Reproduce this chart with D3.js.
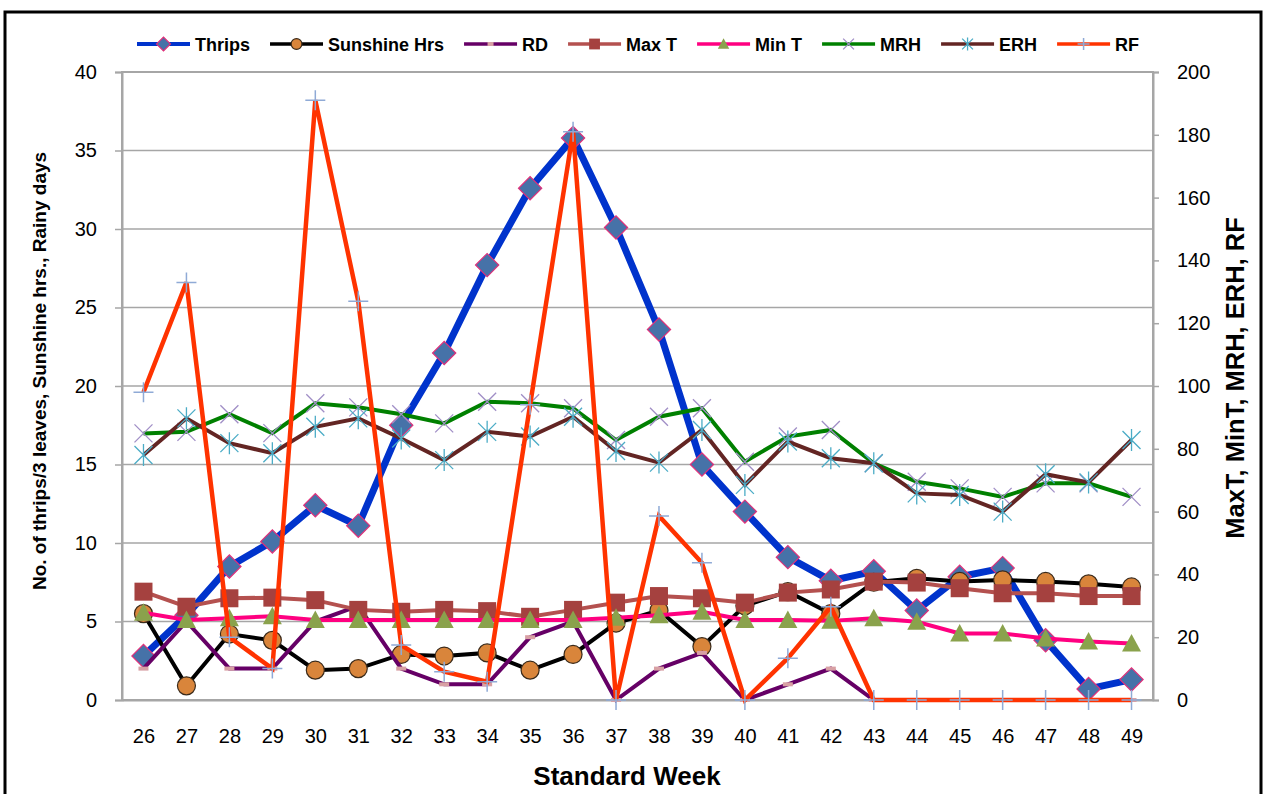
<!DOCTYPE html>
<html><head><meta charset="utf-8">
<script src="https://cdn.jsdelivr.net/npm/d3@7"></script>
<style>
body{margin:0;background:#fff}
svg{display:block}
text{font-family:"Liberation Sans",Arial,sans-serif;font-weight:bold;fill:#000}
</style>
</head><body><svg id="c" width="1264" height="794"></svg>
<script>
// ---- data ----
const weeks = [26,27,28,29,30,31,32,33,34,35,36,37,38,39,40,41,42,43,44,45,46,47,48,49];
const thrips = [2.8,5.4,8.5,10.1,12.4,11.1,17.5,22.1,27.7,32.6,35.8,30.1,23.6,15.0,12.0,9.1,7.6,8.2,5.7,7.85,8.4,3.8,0.7,1.3];
const sunshineHrs = [5.5,0.9,4.2,3.8,1.9,2.0,2.9,2.8,3.0,1.9,2.9,4.9,5.7,3.4,6.0,6.9,5.5,7.5,7.75,7.55,7.65,7.55,7.4,7.2];
const rainyDays = [2,5,2,2,5,6,2,1,1,4,5,0,2,3,0,1,2,0,0,0,0,0,0,0];
const maxT = [34.5,29.7,32.4,32.6,31.8,28.7,28.1,28.7,28.3,26.5,28.7,31,33.1,32.4,31,34.2,35.2,37.7,37.4,35.6,34,34,33.1,33.1];
const minT = [27.8,25.5,26,26.7,25.5,25.5,25.5,25.5,25.5,25.5,25.5,26.2,27,28.1,25.5,25.5,25.2,26,24.9,21.2,21.2,19.6,18.6,18];
const mrh = [84.9,85.4,91,85,94.5,93.2,91,88.1,95,94.5,92.9,82.8,90.2,92.9,75.9,83.9,86,75.4,69.5,67.4,64.7,69,69,64.7];
const erh = [78,89.7,81.8,78.6,87,89.7,83.3,76.4,85.4,83.9,90.2,79.3,75.6,86,68.5,82.3,77,75.4,65.8,65.3,60,71.9,69.3,82.8];
const rf = [98,133,20,10,191,127,17.5,9,5.8,94,181,0,58.6,43.7,0,13.3,29.7,0,0,0,0,0,0,0];
const leftTicks = [0,5,10,15,20,25,30,35,40];
const rightTicks = [0,20,40,60,80,100,120,140,160,180,200];
const seriesNames = ["Thrips","Sunshine Hrs","RD","Max T","Min T","MRH","ERH","RF"];
const xTitle = "Standard Week";
const yLeftTitle = "No. of thrips/3 leaves, Sunshine hrs., Rainy days";
const yRightTitle = "MaxT, MinT, MRH, ERH, RF";

// ---- layout ----
const svg = d3.select("#c");
const L = 122, R = 1153, T = 72, B = 700;
const x = d3.scalePoint().domain(weeks).range([L, R]).padding(0.5);
const yL = d3.scaleLinear().domain([0, 40]).range([B, T]);
const yR = d3.scaleLinear().domain([0, 200]).range([B, T]);

// outer frame
svg.append("rect").attr("x", 5).attr("y", 12).attr("width", 1256).attr("height", 800)
  .attr("fill", "none").attr("stroke", "#000").attr("stroke-width", 3);

// gridlines
svg.append("g").selectAll("line").data(leftTicks.filter(d => d > 0 && d < 40)).join("line")
  .attr("x1", L).attr("x2", R).attr("y1", d => yL(d)).attr("y2", d => yL(d))
  .attr("stroke", "#a6a6a6").attr("stroke-width", 1.5);
// plot border
svg.append("rect").attr("x", L).attr("y", T).attr("width", R - L).attr("height", B - T)
  .attr("fill", "none").attr("stroke", "#a6a6a6").attr("stroke-width", 2);

// axes
const gL = svg.append("g").attr("transform", `translate(${L},0)`)
  .call(d3.axisLeft(yL).tickValues(leftTicks).tickSize(7).tickPadding(18));
const gR = svg.append("g").attr("transform", `translate(${R},0)`)
  .call(d3.axisRight(yR).tickValues(rightTicks).tickSize(6).tickPadding(18));
const gB = svg.append("g").attr("transform", `translate(0,${B})`)
  .call(d3.axisBottom(x).tickSize(0).tickPadding(29));
[gL, gR, gB].forEach(g => {
  g.select(".domain").attr("stroke", "#a6a6a6").attr("stroke-width", 2);
  g.selectAll(".tick line").attr("stroke", "#a6a6a6").attr("stroke-width", 1.5);
  g.selectAll("text").style("font-size", "20px").style("font-weight", "normal")
   .style("font-family", '"Liberation Sans",Arial,sans-serif').attr("fill", "#000");
});

// titles
svg.append("text").attr("x", 627).attr("y", 785).attr("text-anchor", "middle")
  .style("font-size", "26px").text(xTitle);
svg.append("text").attr("transform", `translate(46,371) rotate(-90)`)
  .attr("text-anchor", "middle").style("font-size", "19px").text(yLeftTitle);
svg.append("text").attr("transform", `translate(1244,378) rotate(-90)`)
  .attr("text-anchor", "middle").style("font-size", "25.5px").text(yRightTitle);

// ---- marker drawing ----
function marker(g, type, s) {
  switch (type) {
    case "diamond":
      g.append("path").attr("d", d3.symbol(d3.symbolSquare, 270 * s * s)())
        .attr("transform", "rotate(45)").attr("fill", "#4672a8").attr("stroke", "#e0307a").attr("stroke-width", 1.2);
      break;
    case "circle":
      g.append("circle").attr("r", 9 * s).attr("fill", "#d9853b").attr("stroke", "#3a2a1a").attr("stroke-width", 1.2);
      break;
    case "dash":
      g.append("rect").attr("x", -5 * s).attr("y", -2).attr("width", 10 * s).attr("height", 4)
        .attr("fill", "#d8a0a4");
      break;
    case "square":
      g.append("rect").attr("x", -9 * s).attr("y", -9 * s).attr("width", 18 * s).attr("height", 18 * s)
        .attr("fill", "#a5413f");
      break;
    case "triangle":
      g.append("path").attr("d", `M0,${-9.5 * s}L${9.5 * s},${8 * s}L${-9.5 * s},${8 * s}Z`).attr("fill", "#8aa24c");
      break;
    case "x":
      g.append("path").attr("d", `M${-9 * s},${-9 * s}L${9 * s},${9 * s}M${-9 * s},${9 * s}L${9 * s},${-9 * s}`)
        .attr("stroke", "#a08ec6").attr("stroke-width", 1.3).attr("fill", "none");
      break;
    case "asterisk":
      g.append("path").attr("d", `M${-9 * s},${-9 * s}L${9 * s},${9 * s}M${-9 * s},${9 * s}L${9 * s},${-9 * s}M0,${-11 * s}L0,${11 * s}`)
        .attr("stroke", "#4bacc6").attr("stroke-width", 1.3).attr("fill", "none");
      break;
    case "plus":
      g.append("path").attr("d", `M${-10 * s},0L${10 * s},0M0,${-10 * s}L0,${10 * s}`)
        .attr("stroke", "#8faad6").attr("stroke-width", 1.5).attr("fill", "none");
      break;
  }
}

const series = [
  {name: seriesNames[0], values: thrips, y: yL, color: "#0033cc", width: 7, m: "diamond"},
  {name: seriesNames[1], values: sunshineHrs, y: yL, color: "#000000", width: 4, m: "circle"},
  {name: seriesNames[2], values: rainyDays, y: yL, color: "#660066", width: 4, m: "dash"},
  {name: seriesNames[3], values: maxT, y: yR, color: "#b4514f", width: 4, m: "square"},
  {name: seriesNames[4], values: minT, y: yR, color: "#ff0080", width: 4, m: "triangle"},
  {name: seriesNames[5], values: mrh, y: yR, color: "#008000", width: 4, m: "x"},
  {name: seriesNames[6], values: erh, y: yR, color: "#632523", width: 4, m: "asterisk"},
  {name: seriesNames[7], values: rf, y: yR, color: "#ff3300", width: 4.5, m: "plus"}
];

const plot = svg.append("g");
series.forEach(s => {
  const line = d3.line().x((d, i) => x(weeks[i])).y(d => s.y(d));
  plot.append("path").datum(s.values).attr("d", line).attr("fill", "none")
    .attr("stroke", s.color).attr("stroke-width", s.width).attr("stroke-linejoin", "miter");
  s.values.forEach((v, i) => {
    const g = plot.append("g").attr("transform", `translate(${x(weeks[i])},${s.y(v)})`);
    marker(g, s.m, 1);
  });
});

// ---- legend ----
const leg = svg.append("g");
let cx = 137;
series.forEach(s => {
  const g = leg.append("g").attr("transform", `translate(${cx},44)`);
  g.append("line").attr("x1", 0).attr("x2", 53).attr("y1", 0).attr("y2", 0)
    .attr("stroke", s.color).attr("stroke-width", s.m === "diamond" ? 4 : 3.5);
  const mg = g.append("g").attr("transform", "translate(26.5,0)");
  marker(mg, s.m, 0.6);
  const t = g.append("text").attr("x", 58).attr("y", 6.5).style("font-size", "18px").text(s.name);
  const w = t.node().getComputedTextLength();
  cx += 58 + w + 20;
});
</script>
</body></html>
